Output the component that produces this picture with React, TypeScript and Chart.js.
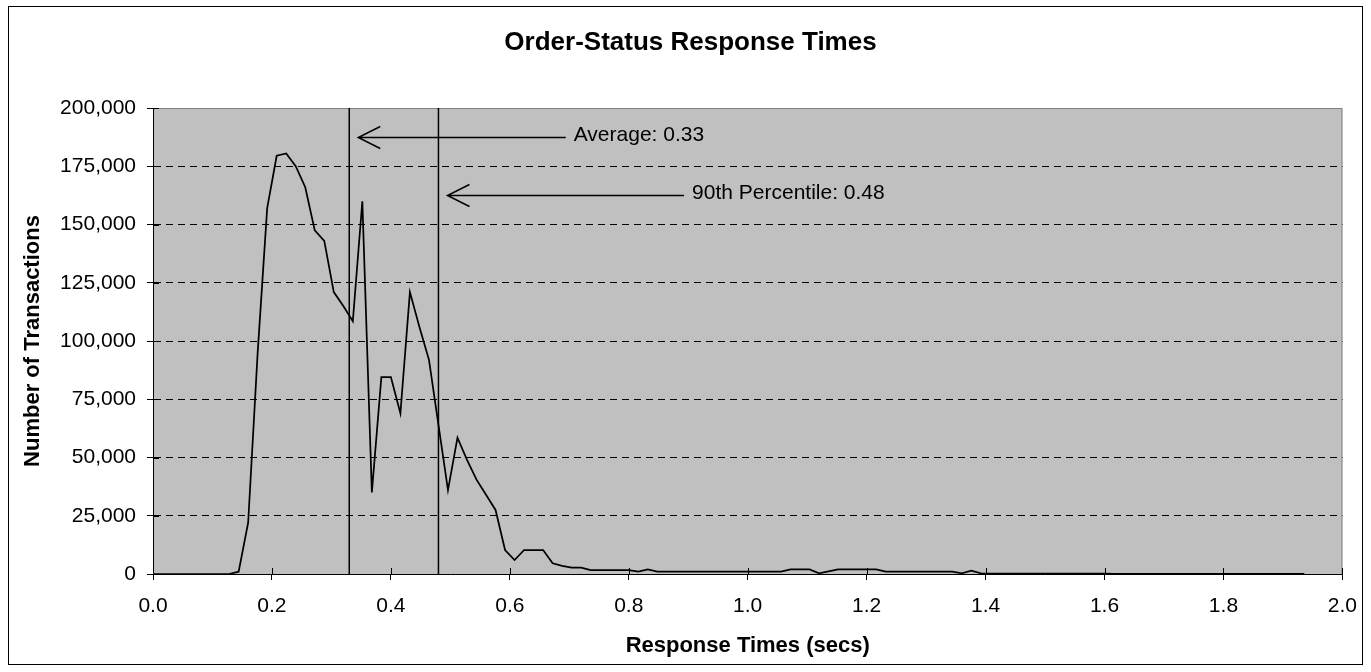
import React, { useEffect, useRef } from "react";
import { Chart, registerables } from "chart.js";

Chart.register(...registerables);

// ---- data ----
const BIN_WIDTH = 0.016; // seconds per histogram bucket
const transactionCounts = [
  0, 0, 0, 0, 0, 0, 0, 0, 0, 1000,
  22000, 95000, 157000, 179500, 180500, 175000, 166000, 147500, 143000, 121000,
  115000, 108500, 160000, 35000, 84500, 84500, 69000, 121000, 106000, 92000,
  64000, 36000, 58500, 49000, 40500, 34000, 27500, 10300, 6000, 10300,
  10300, 10300, 4600, 3500, 2700, 2700, 1700, 1700, 1700, 1700,
  1700, 1000, 2000, 1000, 1000, 1000, 1000, 1000, 1000, 1000,
  1000, 1000, 1000, 1000, 1000, 1000, 1000, 2000, 2000, 2000,
  300, 1150, 2000, 2000, 2000, 2000, 2000, 1000, 1000, 1000,
  1000, 1000, 1000, 1000, 1000, 300, 1400, 300, 200, 200,
  200, 200, 200, 200, 200, 200, 200, 200, 200, 200,
  200, 100, 100, 100, 100, 100, 100, 100, 100, 100,
  100, 100, 100, 100, 100, 100, 100, 100, 100, 100,
  100, 100,
];
const responseTimes = transactionCounts.map((_, i) => Math.round(i * BIN_WIDTH * 1000) / 1000);

const chartTitle = "Order-Status Response Times";
const xAxisTitle = "Response Times (secs)";
const yAxisTitle = "Number of Transactions";
const xMin = 0;
const xMax = 2;
const xStep = 0.2;
const yMin = 0;
const yMax = 200000;
const yStep = 25000;

const averageTime = 0.33;
const percentile90Time = 0.48;
const averageLabel = "Average: 0.33";
const percentileLabel = "90th Percentile: 0.48";
const averageArrowY = 187500;
const percentileArrowY = 162500;
const averageArrowEnd = 0.694;
const percentileArrowEnd = 0.893;

const FONT = "'Liberation Sans', Arial, Helvetica, sans-serif";

const framePlugin = {
  id: "frame",
  beforeDraw(chart: any) {
    const { ctx, chartArea: a, width, height } = chart;
    ctx.save();
    ctx.fillStyle = "#ffffff";
    ctx.fillRect(0, 0, width, height);
    ctx.strokeStyle = "#000000";
    ctx.lineWidth = 1;
    ctx.strokeRect(8.5, 6.5, width - 17, height - 14);
    ctx.fillStyle = "#C0C0C0";
    ctx.fillRect(a.left, a.top, a.right - a.left, a.bottom - a.top);
    ctx.strokeStyle = "#808080";
    ctx.strokeRect(a.left + 0.5, a.top + 0.5, a.right - a.left - 1, a.bottom - a.top);
    ctx.restore();
  },
  afterDraw(chart: any) {
    const { ctx, chartArea: a } = chart;
    const xs = chart.scales.x;
    const ys = chart.scales.y;
    ctx.save();
    // inner halves of the crossing tick marks
    ctx.strokeStyle = "#000000";
    ctx.lineWidth = 1;
    ctx.beginPath();
    for (const t of xs.ticks) {
      const px = Math.round(xs.getPixelForValue(t.value)) + 0.5;
      ctx.moveTo(px, a.bottom);
      ctx.lineTo(px, a.bottom - 6);
    }
    for (const t of ys.ticks) {
      const py = Math.round(ys.getPixelForValue(t.value)) + 0.5;
      ctx.moveTo(a.left, py);
      ctx.lineTo(a.left + 6, py);
    }
    ctx.stroke();

    // arrows
    const drawArrow = (lineValue: number, endValue: number, yValue: number, label: string) => {
      const tipX = xs.getPixelForValue(lineValue) + 9;
      const endX = xs.getPixelForValue(endValue);
      const y = Math.round(ys.getPixelForValue(yValue)) + 0.5;
      ctx.strokeStyle = "#000000";
      ctx.lineWidth = 1.5;
      ctx.beginPath();
      ctx.moveTo(tipX, y);
      ctx.lineTo(endX, y);
      ctx.moveTo(tipX + 22, y - 11);
      ctx.lineTo(tipX, y);
      ctx.lineTo(tipX + 22, y + 11);
      ctx.stroke();
      ctx.fillStyle = "#000000";
      ctx.font = `21px ${FONT}`;
      ctx.textAlign = "left";
      ctx.textBaseline = "middle";
      ctx.fillText(label, endX + 8, y - 2);
    };
    drawArrow(averageTime, averageArrowEnd, averageArrowY, averageLabel);
    drawArrow(percentile90Time, percentileArrowEnd, percentileArrowY, percentileLabel);
    ctx.restore();
  },
};

export default function App() {
  const canvasRef = useRef<HTMLCanvasElement | null>(null);

  useEffect(() => {
    if (!canvasRef.current) return;
    Chart.defaults.font.family = FONT;
    Chart.defaults.color = "#000000";

    const chart = new Chart(canvasRef.current, {
      type: "line",
      data: {
        datasets: [
          {
            label: "Transactions",
            data: responseTimes.map((x, i) => ({ x, y: transactionCounts[i] })),
            borderColor: "#000000",
            borderWidth: 1.75,
            pointRadius: 0,
            tension: 0,
            fill: false,
          },
          {
            label: "Average",
            data: [
              { x: averageTime, y: yMin },
              { x: averageTime, y: yMax },
            ],
            borderColor: "#000000",
            borderWidth: 1.5,
            pointRadius: 0,
          },
          {
            label: "90th Percentile",
            data: [
              { x: percentile90Time, y: yMin },
              { x: percentile90Time, y: yMax },
            ],
            borderColor: "#000000",
            borderWidth: 1.5,
            pointRadius: 0,
          },
        ],
      },
      options: {
        responsive: false,
        animation: false,
        parsing: true,
        layout: { padding: { left: 10, right: 0, top: 0, bottom: 0 } },
        plugins: {
          legend: { display: false },
          tooltip: { enabled: false },
          title: {
            display: true,
            text: chartTitle,
            color: "#000000",
            font: { size: 26, weight: "bold", family: FONT },
            padding: { top: 26.9, bottom: 49.9 },
          },
        },
        scales: {
          x: {
            type: "linear",
            min: xMin,
            max: xMax,
            ticks: {
              stepSize: xStep,
              autoSkip: false,
              maxRotation: 0,
              color: "#000000",
              font: { size: 21, family: FONT },
              padding: 14,
              callback: (v: any) => Number(v).toFixed(1),
            },
            grid: {
              drawOnChartArea: false,
              drawTicks: true,
              tickLength: 6,
              tickColor: "#000000",
              tickWidth: 1,
            },
            border: { display: true, color: "#000000", width: 1 },
            title: {
              display: true,
              text: xAxisTitle,
              color: "#000000",
              font: { size: 22, weight: "bold", family: FONT },
              padding: { top: 0, bottom: 12.8 },
            },
            afterFit(scale: any) {
              scale.height = 98;
            },
          },
          y: {
            type: "linear",
            min: yMin,
            max: yMax,
            ticks: {
              stepSize: yStep,
              color: "#000000",
              font: { size: 21, family: FONT },
              padding: 11,
            },
            grid: {
              color: (c: any) =>
                c.tick && (c.tick.value === yMin || c.tick.value === yMax) ? "rgba(0,0,0,0)" : "#000000",
              lineWidth: 1,
              drawTicks: true,
              tickLength: 6,
              tickColor: "#000000",
              tickWidth: 1,
              tickBorderDash: [],
              borderDash: [7, 5],
            } as any,
            border: { display: true, color: "#000000", width: 1, dash: [7, 5] },
            title: {
              display: true,
              text: yAxisTitle,
              color: "#000000",
              font: { size: 22, weight: "bold", family: FONT },
              padding: { top: 9.8, bottom: 0 },
            },
            afterFit(scale: any) {
              scale.width = 143;
            },
          },
          y2: {
            type: "linear",
            position: "right",
            display: true,
            ticks: { display: false },
            grid: { display: false },
            border: { display: false },
            afterFit(scale: any) {
              scale.width = 27;
            },
          },
        },
      } as any,
      plugins: [framePlugin],
    });
    return () => chart.destroy();
  }, []);

  return (
    <div style={{ position: "fixed", left: 0, top: 0, width: 1371, height: 672, background: "#fff" }}>
      <canvas ref={canvasRef} width={1371} height={672} style={{ display: "block" }} />
    </div>
  );
}
